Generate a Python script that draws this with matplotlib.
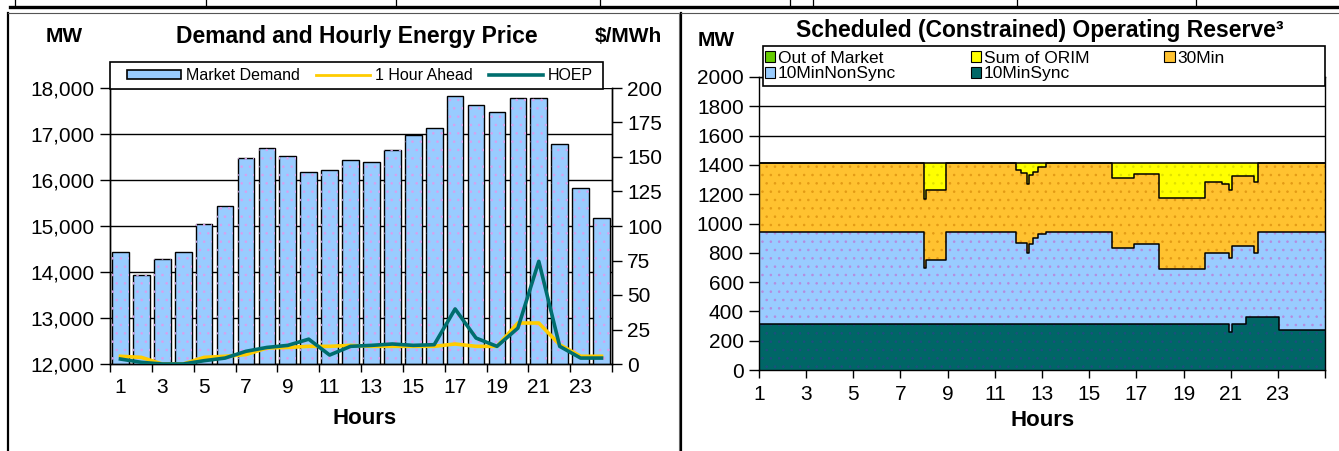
import numpy as np
import matplotlib
matplotlib.use("Agg")
import matplotlib.pyplot as plt
from matplotlib.lines import Line2D
from matplotlib.patches import Patch, Rectangle
from matplotlib.ticker import FuncFormatter

# ---- left panel data: demand (MW) and prices ($/MWh) by hour ----------------------
hours = np.arange(1, 25)
demand_mw = [14435, 13945, 14290, 14435, 15045, 15440, 16480, 16695, 16520, 16175, 16225, 16435,
             16390, 16660, 16970, 17120, 17830, 17620, 17480, 17780, 17780, 16785, 15825, 15175]
hour_ahead = [5.6, 4.8, 0, 0, 4.8, 5.6, 6.8, 11.6, 12.0, 12.8, 12.8, 13.5,
              12.8, 12.8, 12.8, 12.8, 14.5, 12.8, 12.8, 29.7, 29.7, 14.0, 5.6, 5.6]
hoep = [3.6, 1.2, 0, 0, 2.4, 4.3, 9.2, 12.0, 13.5, 18.0, 6.5, 12.8,
        13.5, 14.5, 13.5, 14.0, 39.9, 18.8, 12.8, 26.0, 74.4, 12.8, 4.3, 4.3]

# ---- right panel data: scheduled operating reserve, cumulative tops (MW) ------------
t_hr = [1.00, 7.99, 8.10, 8.92, 11.91, 12.10, 12.35, 12.45, 12.60, 12.85, 13.16, 15.97,
        16.90, 17.96, 19.93, 20.64, 20.91, 21.05, 21.67, 21.98, 22.16, 23.05, 25.00]
sync_top = [315, 315, 315, 315, 315, 315, 315, 315, 315, 315, 315, 315,
            315, 315, 315, 315, 258, 315, 360, 360, 360, 272, 272]
tenmin_top = [940, 695, 748, 940, 870, 870, 801, 860, 900, 930, 940, 831,
              860, 690, 801, 801, 762, 847, 847, 801, 940, 940, 940]
thirty_top = [1415, 1168, 1229, 1415, 1366, 1343, 1270, 1331, 1350, 1388, 1415, 1309,
              1338, 1172, 1281, 1270, 1229, 1325, 1325, 1286, 1415, 1415, 1415]
orim_top = [1415] * len(t_hr)
oom_top = orim_top  # Out of Market is zero all day

W, H = 1339, 451
plt.rcParams.update({"font.family": ["Liberation Sans", "DejaVu Sans"], "font.size": 15,
                     "axes.linewidth": 1.0, "axes.edgecolor": "black",
                     "hatch.linewidth": 0.6})
fig = plt.figure(figsize=(W / 100, H / 100), dpi=100)
def fx(p): return p / W
def fy(p): return 1 - p / H
def box(x0, y0, x1, y1): return [fx(x0), fy(y1), fx(x1) - fx(x0), fy(y0) - fy(y1)]
def frame(x0, y0, x1, y1):
    fig.add_artist(Rectangle((fx(x0), fy(y1)), fx(x1) - fx(x0), fy(y0) - fy(y1),
                             transform=fig.transFigure, facecolor="white",
                             edgecolor="black", lw=1.2, zorder=4))

# ---- page / table decoration --------------------------------------------------------
fig.add_artist(Line2D([fx(10), 1], [fy(7), fy(7)], lw=2.4, color="black"))
for xv in [15, 206, 396, 600, 790, 813, 1017, 1196]:
    fig.add_artist(Line2D([fx(xv), fx(xv)], [1, fy(7)], lw=0.9, color="black"))
fig.add_artist(Line2D([fx(8), fx(8)], [fy(13), 0], lw=1.6, color="black"))
fig.add_artist(Line2D([fx(8), fx(679)], [fy(13), fy(13)], lw=0.8, color="#555555"))
fig.add_artist(Line2D([fx(679), fx(679)], [fy(13), 0], lw=0.8, color="#777777"))
fig.add_artist(Line2D([fx(681), fx(681)], [fy(13), 0], lw=1.6, color="black"))
fig.add_artist(Line2D([fx(681), 1], [fy(13), fy(13)], lw=0.8, color="#555555"))

# ---- left: demand bars + price lines ------------------------------------------------
ax = fig.add_axes(box(110, 88, 612, 364))
ax.set_axisbelow(True)
ax.bar(hours, demand_mw, width=0.8, color="#99CCFF", edgecolor="black", lw=1.0, zorder=2)
ax.bar(hours, demand_mw, width=0.8, facecolor="none", edgecolor="#d9a0ee", lw=0, hatch="..", zorder=2)
ax.set_ylim(12000, 18000)
ax.set_yticks(np.arange(12000, 18001, 1000))
ax.yaxis.set_major_formatter(FuncFormatter(lambda v, p: f"{v:,.0f}"))
ax.yaxis.grid(True, color="black", lw=1.0)
ax.set_xlim(0.5, 24.5)
ax.set_xticks(np.arange(0.5, 25, 2), [""] * 13)
ax.set_xticks(np.arange(1, 24, 2), [str(h) for h in range(1, 24, 2)], minor=True)
ax.tick_params(axis="x", which="major", direction="out", length=6, width=1)
ax.tick_params(axis="x", which="minor", length=0, pad=10, labelsize=15)
ax.tick_params(axis="y", direction="out", length=7, width=1, pad=4, labelsize=15)
ax.spines["top"].set_visible(False)

ax2 = ax.twinx()
ax2.plot(hours, hour_ahead, color="#FFCC00", lw=2.6, zorder=3)
ax2.plot(hours, hoep, color="#006E6E", lw=2.6, zorder=4)
ax2.set_ylim(0, 200)
ax2.set_yticks(np.arange(0, 201, 25))
ax2.tick_params(axis="y", direction="out", length=7, width=1, pad=4, labelsize=15)
ax2.spines["top"].set_visible(False)

frame(110, 62, 603, 89)
hl = [Patch(facecolor="#99CCFF", edgecolor="black", lw=1.2), Line2D([], [], color="#FFCC00", lw=2),
      Line2D([], [], color="#006E6E", lw=2.6)]
fig.legend(hl, ["Market Demand", "1 Hour Ahead", "HOEP"], ncol=3, loc="center left",
           bbox_to_anchor=(fx(127), fy(75.5)), fontsize=11.5, handlelength=3.4,
           handleheight=0.5, handletextpad=0.3, columnspacing=1.0, borderaxespad=0,
           borderpad=0, frameon=False)

fig.text(fx(357), fy(37), "Demand and Hourly Energy Price", ha="center", va="center",
         fontsize=16.5, fontweight="bold")
fig.text(fx(64), fy(36), "MW", ha="center", va="center", fontsize=15, fontweight="bold")
fig.text(fx(628), fy(36), "$/MWh", ha="center", va="center", fontsize=15, fontweight="bold")
fig.text(fx(365), fy(419), "Hours", ha="center", va="center", fontsize=16, fontweight="bold")

# ---- right: stacked operating reserve ---------------------------------------------
bx = fig.add_axes(box(759, 77, 1325, 370))
bx.set_axisbelow(True)
zero = np.zeros(len(t_hr))
layers = [(zero, sync_top, "#006666", "#1f4d80"),
          (sync_top, tenmin_top, "#99CCFF", "#b58be0"),
          (tenmin_top, thirty_top, "#FFC230", "#e39a15"),
          (thirty_top, orim_top, "#FFFF00", "#e0e000"),
          (orim_top, oom_top, "#66CC00", "#66CC00")]
for lo, hi, c, dc in layers:
    bx.fill_between(t_hr, lo, hi, step="post", facecolor=c, lw=0, zorder=2)
    bx.fill_between(t_hr, lo, hi, step="post", facecolor="none", edgecolor=dc, lw=0,
                    hatch="..", zorder=2)
for top in [sync_top, tenmin_top, thirty_top, orim_top]:
    bx.step(t_hr, top, where="post", color="black", lw=1.1, zorder=3)
bx.set_xlim(1, 25)
bx.set_ylim(0, 2000)
bx.set_yticks(np.arange(0, 2001, 200))
bx.yaxis.grid(True, color="black", lw=1.0)
bx.set_xticks(np.arange(1, 26, 2), [str(h) for h in range(1, 24, 2)] + [""])
bx.tick_params(axis="x", direction="out", length=6, width=1, pad=5, labelsize=15)
bx.tick_params(axis="y", direction="out", length=7, width=1, pad=4, labelsize=15)

frame(763, 46, 1325, 86)
rh = [Patch(facecolor=c, edgecolor="black", lw=0.8) for c in
      ["#66CC00", "#99CCFF", "#FFFF00", "#006666", "#FFC230"]]
rl = ["Out of Market", "10MinNonSync", "Sum of ORIM", "10MinSync", "30Min"]
fig.legend(rh, rl, ncol=3, loc="center left", bbox_to_anchor=(fx(765), fy(66)),
           fontsize=12.5, handlelength=0.6, handleheight=0.6, handletextpad=0.15,
           columnspacing=4.3, borderaxespad=0, borderpad=0, labelspacing=0.05,
           frameon=False)

fig.text(fx(1040), fy(30), "Scheduled (Constrained) Operating Reserve³", ha="center",
         va="center", fontsize=16.5, fontweight="bold")
fig.text(fx(716), fy(40), "MW", ha="center", va="center", fontsize=15, fontweight="bold")
fig.text(fx(1043), fy(421), "Hours", ha="center", va="center", fontsize=16, fontweight="bold")

fig.savefig("out.png", dpi=100)
